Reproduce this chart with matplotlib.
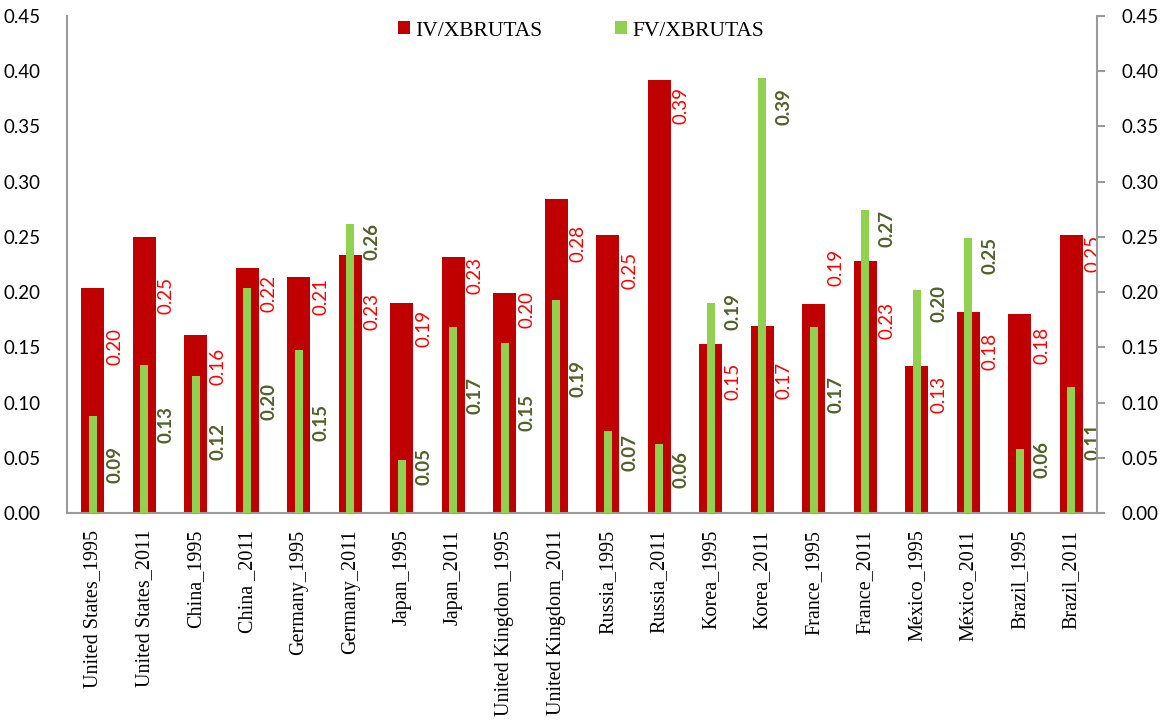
import matplotlib
matplotlib.use("Agg")
import matplotlib.pyplot as plt
import numpy as np

CATEGORIES = [
    "United States_1995", "United States_2011", "China_1995", "China _2011",
    "Germany_1995", "Germany_2011", "Japan_1995", "Japan_2011",
    "United Kingdom_1995", "United Kingdom_2011", "Russia_1995", "Russia_2011",
    "Korea_1995", "Korea_2011", "France_1995", "France_2011",
    "México_1995", "México_2011", "Brazil_1995", "Brazil_2011",
]
IV_XBRUTAS = [0.204, 0.250, 0.161, 0.222, 0.214, 0.234, 0.190, 0.232, 0.199, 0.284,
              0.252, 0.392, 0.153, 0.169, 0.189, 0.228, 0.133, 0.182, 0.180, 0.252]
FV_XBRUTAS = [0.088, 0.134, 0.124, 0.204, 0.148, 0.262, 0.048, 0.168, 0.154, 0.193,
              0.074, 0.062, 0.190, 0.394, 0.168, 0.274, 0.202, 0.249, 0.058, 0.114]

# hand-placed data label heights (label centre, axis units), as in the original
IV_LABEL_POS = [0.151, 0.197, 0.133, 0.199, 0.196, 0.182, 0.167, 0.215, 0.184, 0.244,
                0.220, 0.369, 0.119, 0.120, 0.222, 0.174, 0.107, 0.146, 0.152, 0.235]
FV_LABEL_POS = [0.044, 0.080, 0.065, 0.101, 0.082, 0.246, 0.042, 0.106, 0.091, 0.122,
                0.055, 0.039, 0.182, 0.368, 0.107, 0.258, 0.190, 0.233, 0.048, 0.065]

RED = "#C00000"
GREEN = "#92D050"
RED_TXT = "#FF0000"
GREEN_TXT = "#4F6228"
AXIS_GRAY = "#9A9A9A"
SANS = ["Lato", "DejaVu Sans"]
SERIF = ["Liberation Serif", "DejaVu Serif"]


def main() -> None:
    fig = plt.figure(figsize=(11.62, 7.27), dpi=100)
    ax = fig.add_axes([0.0577, 0.2944, 0.8863, 0.6836])
    x = np.arange(len(CATEGORIES))

    ax.bar(x, IV_XBRUTAS, width=0.44, color=RED, label="IV/XBRUTAS", zorder=2)
    ax.bar(x, FV_XBRUTAS, width=0.16, color=GREEN, label="FV/XBRUTAS", zorder=3)

    for xi, v, p in zip(x, IV_XBRUTAS, IV_LABEL_POS):
        ax.text(xi + 0.43, p, f"{v:.2f}", rotation=90, ha="center", va="center",
                color=RED_TXT, fontsize=13.5, family=SANS, zorder=4)
    for xi, v, p in zip(x, FV_XBRUTAS, FV_LABEL_POS):
        ax.text(xi + 0.43, p, f"{v:.2f}", rotation=90, ha="center", va="center",
                color=GREEN_TXT, fontsize=13.5, fontweight="bold", family=SANS, zorder=4)

    ax.set_xlim(-0.5, len(CATEGORIES) - 0.5)
    ax.set_ylim(0, 0.45)
    yt = np.arange(0, 0.451, 0.05)
    ax.set_yticks(yt)
    ax.set_yticklabels([f"{t:.2f}" for t in yt], family=SANS, fontsize=13.5)
    ax.tick_params(axis="y", length=0, pad=19)
    ax.set_xticks(x)
    ax.set_xticklabels(CATEGORIES, rotation=90, family=SERIF, fontsize=14.5)
    ax.tick_params(axis="x", length=0, pad=12)

    ax.spines["top"].set_visible(False)
    ax.spines["right"].set_visible(False)
    for side in ("left", "bottom"):
        ax.spines[side].set_color(AXIS_GRAY)
        ax.spines[side].set_linewidth(1.5)

    ax2 = ax.twinx()
    ax2.set_ylim(0, 0.45)
    ax2.set_yticks(yt)
    ax2.set_yticklabels([f"{t:.2f}" for t in yt], family=SANS, fontsize=13.5)
    ax2.tick_params(axis="y", length=6, width=1.5, color=AXIS_GRAY, direction="out", pad=12)
    for side in ("top", "left", "bottom"):
        ax2.spines[side].set_visible(False)
    ax2.spines["right"].set_color(AXIS_GRAY)
    ax2.spines["right"].set_linewidth(1.5)

    ax.legend(loc="upper center", bbox_to_anchor=(0.499, 1.015), ncol=2, frameon=False,
              prop={"family": SERIF, "size": 15.5}, handlelength=0.55, handleheight=0.55,
              handletextpad=0.25, columnspacing=3.4, borderaxespad=0.2)

    fig.savefig("out.png", dpi=100)


if __name__ == "__main__":
    main()
